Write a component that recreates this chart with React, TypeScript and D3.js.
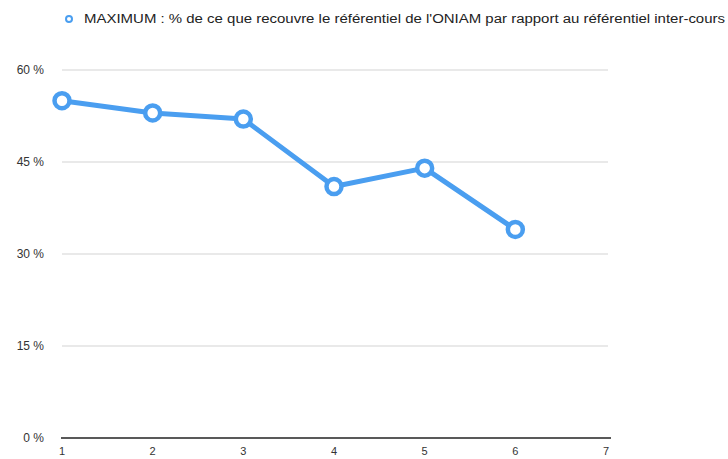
import React from 'react';
import * as d3 from 'd3';

const categories = [1, 2, 3, 4, 5, 6];
const xTicks = [1, 2, 3, 4, 5, 6, 7];
const values = [55, 53, 52, 41, 44, 34];
const yTicks = [0, 15, 30, 45, 60];
const legendLabel =
    "MAXIMUM : % de ce que recouvre le référentiel de l'ONIAM par rapport au référentiel inter-cours";

const color = '#4a9ef0';
const font = '"Liberation Sans", Arial, sans-serif';

export default function App() {
    const width = 728;
    const height = 459;

    const x = d3.scaleLinear().domain([1, 7]).range([62, 606]);
    const y = d3.scaleLinear().domain([0, 60]).range([438, 70]);

    const line = d3
        .line<number>()
        .x((d, i) => x(categories[i]))
        .y(d => y(d));

    return (
        <svg
            width={width}
            height={height}
            style={{ position: 'absolute', left: 0, top: 0, background: '#fff' }}
            fontFamily={font}
        >
            {/* legend */}
            <circle cx={69} cy={19} r={3} fill="#fff" stroke={color} strokeWidth={2} />
            <text
                x={84}
                y={23}
                fontSize={12}
                fill="#222"
                textLength={641}
                lengthAdjust="spacingAndGlyphs"
            >
                {legendLabel}
            </text>

            {/* grid */}
            {yTicks.map(t => (
                <g key={t}>
                    {t > 0 && (
                        <line
                            x1={62}
                            x2={608}
                            y1={y(t)}
                            y2={y(t)}
                            stroke="#e2e2e2"
                            strokeWidth={1.5}
                        />
                    )}
                    <text
                        x={44}
                        y={y(t) + 4}
                        textAnchor="end"
                        fontSize={12}
                        fill="#333"
                    >
                        {`${t} %`}
                    </text>
                </g>
            ))}

            {/* x axis */}
            <line x1={61} x2={611} y1={438} y2={438} stroke="#222" strokeWidth={1.5} />
            {xTicks.map(t => (
                <text key={t} x={x(t)} y={455} textAnchor="middle" fontSize={11} fill="#333">
                    {t}
                </text>
            ))}

            {/* series */}
            <path d={line(values) || ''} fill="none" stroke={color} strokeWidth={5} strokeLinejoin="round" />
            {values.map((v, i) => (
                <circle
                    key={i}
                    cx={x(categories[i])}
                    cy={y(v)}
                    r={7.5}
                    fill="#fff"
                    stroke={color}
                    strokeWidth={4.5}
                />
            ))}
        </svg>
    );
}
